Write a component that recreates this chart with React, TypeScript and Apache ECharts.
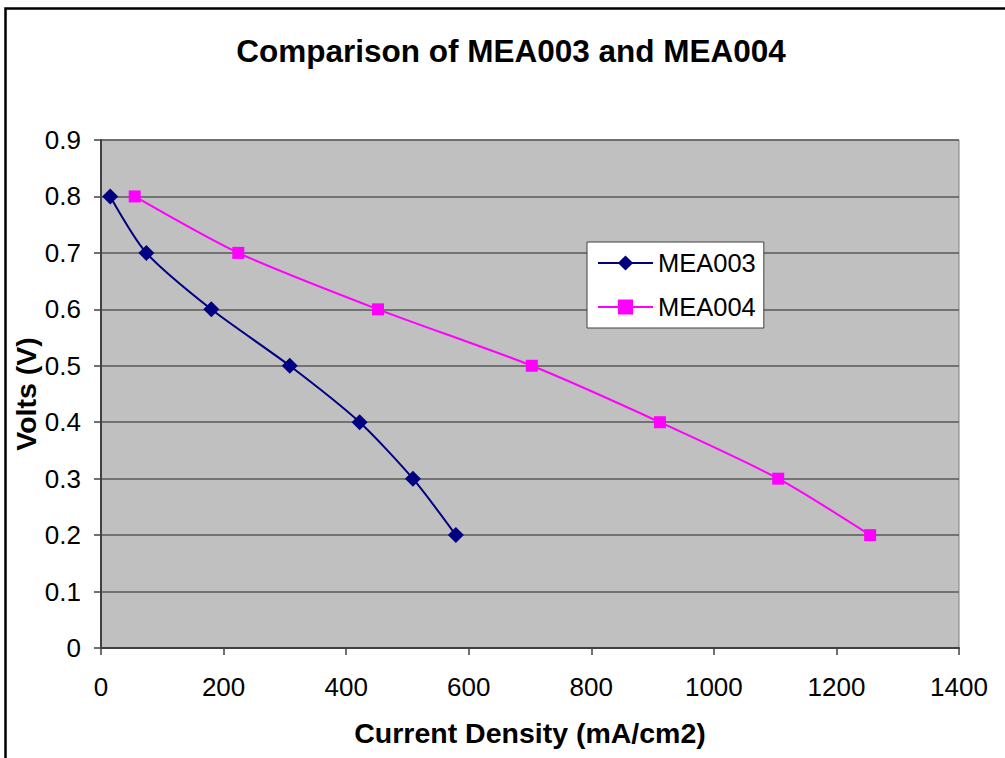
import React, { useEffect, useRef } from "react";
import * as echarts from "echarts";

const seriesNames = ["MEA003", "MEA004"];
const mea003Current = [15, 74, 180, 308, 422, 509, 579];
const mea003Volts = [0.8, 0.7, 0.6, 0.5, 0.4, 0.3, 0.2];
const mea004Current = [55, 224, 452, 703, 912, 1105, 1255];
const mea004Volts = [0.8, 0.7, 0.6, 0.5, 0.4, 0.3, 0.2];
const titleText = "Comparison of MEA003 and MEA004";
const xName = "Current Density (mA/cm2)";
const yName = "Volts (V)";

const FONT = "'Liberation Sans', Arial, sans-serif";

export default function App() {
  const ref = useRef<HTMLDivElement>(null);
  useEffect(() => {
    if (!ref.current) return;
    const chart = echarts.init(ref.current, undefined, { renderer: "svg" });
    const pair = (xs: number[], ys: number[]) => xs.map((x, i) => [x, ys[i]]);
    chart.setOption({
      animation: false,
      backgroundColor: "#ffffff",
      textStyle: { fontFamily: FONT },
      graphic: [
        {
          type: "rect",
          shape: { x: 5.5, y: 8.5, width: 1200, height: 1000 },
          style: { fill: "none", stroke: "#000000", lineWidth: 2.5 },
          silent: true,
        },
        {
          type: "text",
          x: 511,
          y: 35,
          style: {
            text: titleText,
            fontFamily: FONT,
            fontSize: 31.5,
            fontWeight: "bold",
            fill: "#000000",
            textAlign: "center",
            textVerticalAlign: "top",
          },
        },
      ],
      grid: {
        left: 101,
        right: 46,
        top: 140,
        bottom: 110,
        outerBoundsMode: "none",
        containLabel: false,
        show: true,
        backgroundColor: "#C0C0C0",
        borderColor: "#808080",
        borderWidth: 1,
      },
      legend: {
        orient: "vertical",
        left: 587,
        top: 242,
        padding: [8, 8, 8, 10],
        itemGap: 18,
        itemWidth: 55,
        itemHeight: 19,
        itemTextGap: 7,
        backgroundColor: "#ffffff",
        borderColor: "#404040",
        borderWidth: 1,
        textStyle: { fontFamily: FONT, fontSize: 25.5, color: "#000000" },
        data: seriesNames,
      },
      xAxis: {
        type: "value",
        min: 0,
        max: 1400,
        interval: 200,
        name: xName,
        nameLocation: "middle",
        nameGap: 70,
        nameMoveOverlap: false,
        nameTextStyle: { fontFamily: FONT, fontSize: 28.5, fontWeight: "bold", color: "#000000" },
        axisLine: { show: true, onZero: false, lineStyle: { color: "#404040", width: 2 } },
        axisTick: { show: true, length: 7, lineStyle: { color: "#404040", width: 1.5 } },
        axisLabel: {
          fontFamily: FONT,
          fontSize: 26,
          color: "#000000",
          margin: 26,
          formatter: (v: number) => String(v),
        },
        splitLine: { show: false },
      },
      yAxis: {
        type: "value",
        min: 0,
        max: 0.9,
        interval: 0.1,
        name: yName,
        nameLocation: "middle",
        nameGap: 61,
        nameMoveOverlap: false,
        nameTextStyle: { fontFamily: FONT, fontSize: 28.5, fontWeight: "bold", color: "#000000" },
        axisLine: { show: true, lineStyle: { color: "#404040", width: 2 } },
        axisTick: { show: true, length: 7, lineStyle: { color: "#404040", width: 1.5 } },
        axisLabel: {
          fontFamily: FONT,
          fontSize: 26,
          color: "#000000",
          margin: 20,
          formatter: (v: number) => String(Math.round(v * 10) / 10),
        },
        splitLine: { show: true, lineStyle: { color: "#595959", width: 1.5 } },
      },
      series: [
        {
          name: seriesNames[0],
          type: "line",
          data: pair(mea003Current, mea003Volts),
          smooth: 0.25,
          symbol: "diamond",
          symbolSize: 16,
          color: "#000080",
          lineStyle: { color: "#000080", width: 2 },
          itemStyle: { color: "#000080" },
        },
        {
          name: seriesNames[1],
          type: "line",
          data: pair(mea004Current, mea004Volts),
          smooth: 0.25,
          symbol: "rect",
          symbolSize: 12,
          color: "#FF00FF",
          lineStyle: { color: "#FF00FF", width: 2 },
          itemStyle: { color: "#FF00FF" },
        },
      ],
    });
    return () => chart.dispose();
  }, []);
  return (
    <div
      ref={ref}
      style={{ position: "absolute", left: 0, top: 0, width: 1005, height: 758 }}
    />
  );
}
